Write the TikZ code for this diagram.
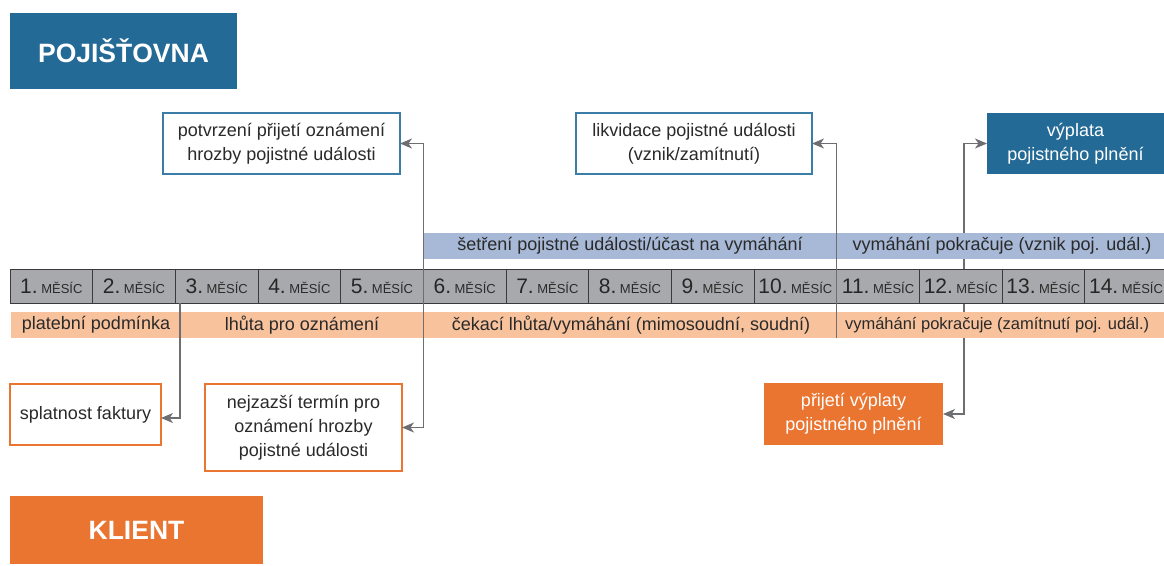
\documentclass[tikz,border=0pt]{standalone}
\usepackage{fontspec}
\setmainfont{Liberation Sans}
\usetikzlibrary{arrows.meta}

\definecolor{insblue}{HTML}{246A96}
\definecolor{frameblue}{HTML}{3C7DA8}
\definecolor{cliorange}{HTML}{E97530}
\definecolor{bandblue}{HTML}{A7B9D7}
\definecolor{bandorange}{HTML}{F7C29C}
\definecolor{cellgray}{HTML}{A7A9AC}
\definecolor{cellline}{HTML}{3A3A3A}
\definecolor{wire}{HTML}{6D6E71}
\definecolor{ink}{HTML}{2A2A2A}

\begin{document}
\begin{tikzpicture}[x=1pt,y=-1pt,
  every node/.style={inner sep=0pt, outer sep=0pt, align=center, text=ink},
  bodytext/.style={font=\fontsize{18}{24}\selectfont},
  header/.style={text=white, font=\fontsize{26.5}{30}\selectfont\bfseries},
  insbox/.style={bodytext, draw=frameblue, line width=1.3pt, fill=white},
  clibox/.style={bodytext, draw=cliorange, line width=1.5pt, fill=white},
  insfill/.style={bodytext, fill=insblue, text=white},
  clifill/.style={bodytext, fill=cliorange, text=white},
  monthcell/.style={draw=cellline, fill=cellgray, line width=1pt,
    minimum width=82.67pt, minimum height=34pt},
  band/.style={minimum height=26pt},
  bandtext/.style={bodytext},
  conn/.style={draw=wire, line width=1.3pt,
    arrows={-Stealth[length=12pt, width=10pt, inset=3.5pt]}},
  bothconn/.style={draw=wire, line width=1.3pt,
    arrows={Stealth[length=12pt, width=10pt, inset=3.5pt]-Stealth[length=12pt, width=10pt, inset=3.5pt]}}
]
\useasboundingbox (0,0) rectangle (1164,565);
\clip (0,0) rectangle (1164,565);

% party headers
\node[header, fill=insblue, minimum width=227pt, minimum height=76pt] (ins) at (123.5,51) {POJIŠŤOVNA};
\node[header, fill=cliorange, minimum width=253pt, minimum height=68pt] (cli) at (136.5,530) {KLIENT};

% insurer events
\node[insbox, minimum width=237pt, minimum height=61pt] (confirm) at (281.5,143.5)
  {potvrzení přijetí oznámení\\hrozby pojistné události};
\node[insbox, minimum width=236pt, minimum height=61pt] (settle) at (694,143.5)
  {likvidace pojistné události\\(vznik/zamítnutí)};
\node[insfill, minimum width=177pt, minimum height=61pt] (payout) at (1075.5,143.5)
  {výplata\\pojistného plnění};

% client events
\node[clibox, minimum width=151pt, minimum height=61pt] (due) at (85.5,414.5)
  {splatnost faktury};
\node[clibox, minimum width=197pt, minimum height=87pt] (deadline) at (303.5,427.5)
  {nejzazší termín pro\\oznámení hrozby\\pojistné události};
\node[clifill, minimum width=179pt, minimum height=62pt] (receive) at (853.5,414)
  {přijetí výplaty\\pojistného plnění};

% payout link runs behind the bands
\draw[bothconn] (payout.west) -- ++(-23,0) |- (receive.east);

% insurer band
\node[band, fill=bandblue, minimum width=760pt, anchor=north west] (ib) at (423.3,233) {};
\node[bandtext] (ib1) at (630,246) {šetření pojistné události/účast na vymáhání};
\node[bandtext] (ib2) at (1002,246) {vymáhání pokračuje (vznik poj. udál.)};

% client band
\node[band, fill=bandorange, minimum width=1170pt, anchor=north west] (cb) at (11,312) {};
\node[bandtext] (cb1) at (96,325) {platební podmínka};
\node[bandtext] (cb2) at (302,325) {lhůta pro oznámení};
\node[bandtext] (cb3) at (631,325) {čekací lhůta/vymáhání (mimosoudní, soudní)};
\node[bandtext, font=\fontsize{16.5}{20}\selectfont, anchor=west] (cb4) at (845,325)
  {vymáhání pokračuje (zamítnutí poj. udál.)};

% month timeline
\foreach \i in {1,...,14}{
  \node[monthcell] (m\i) at ({10+82.67*(\i-0.5)},286)
    {{\fontsize{21}{21}\selectfont\color{black!85}\i.}\hspace{3.5pt}{\fontsize{13}{13}\selectfont MĚSÍC}};
}

% connectors over the bands
\draw[bothconn] (confirm.east) -- (m6.north west |- confirm.east)
  -- (m6.north west |- deadline.east) -- (deadline.east);
\coordinate (dueline) at (180,303);
\draw[conn] (dueline) |- ([yshift=-3.5pt]due.east);
\coordinate (settleline) at (m11.north west |- cb.south);
\draw[conn] (settleline) |- (settle.east);
\end{tikzpicture}
\end{document}
